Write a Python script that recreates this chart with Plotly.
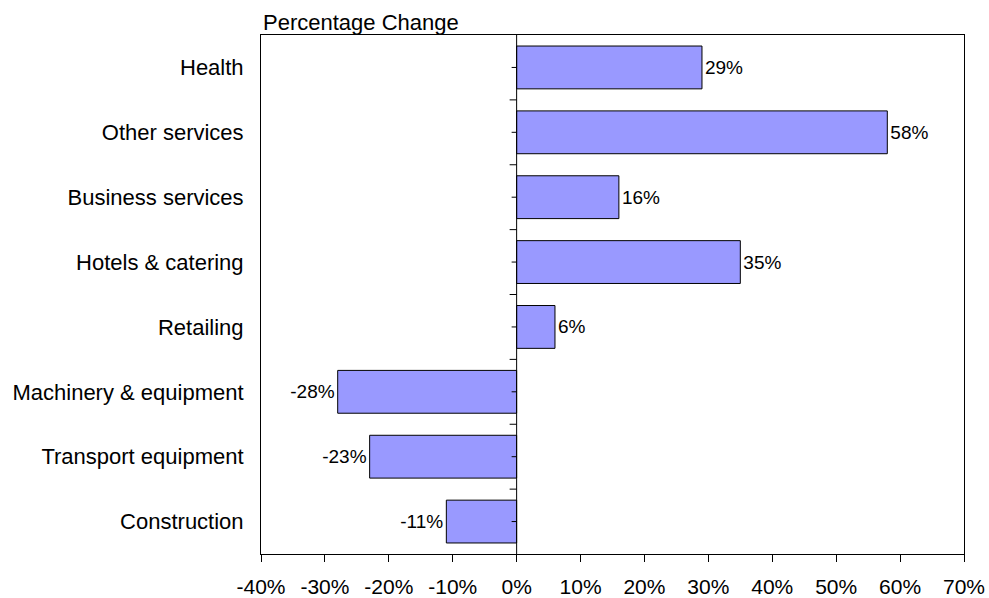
import plotly.graph_objects as go

categories = ["Health", "Other services", "Business services", "Hotels & catering",
              "Retailing", "Machinery & equipment", "Transport equipment", "Construction"]
values = [29, 58, 16, 35, 6, -28, -23, -11]
x_tickvals = [-40, -30, -20, -10, 0, 10, 20, 30, 40, 50, 60, 70]
x_ticktext = ["-40%", "-30%", "-20%", "-10%", "0%", "10%", "20%", "30%", "40%", "50%", "60%", "70%"]
data_labels = [f"{v}%" for v in values]

FONT = "Liberation Sans, Arial, sans-serif"

fig = go.Figure(go.Bar(
    x=values, y=categories, orientation="h",
    marker=dict(color="#9999FF", line=dict(color="#000000", width=1)),
    text=data_labels, textposition="outside", constraintext="none",
    textfont=dict(family=FONT, size=19, color="#000000"),
    cliponaxis=False,
))

# axis ticks along the zero line (category boundaries and centers)
shapes = [dict(type="line", xref="x", yref="paper", x0=0, x1=0, y0=0, y1=1,
               line=dict(color="#000000", width=1))]
n = len(categories)
for i in range(1, n):
    yb = i - 0.5
    shapes.append(dict(type="line", xref="x", yref="y", xsizemode="pixel", xanchor=0,
                       x0=-7, x1=0, y0=yb, y1=yb, line=dict(color="#000000", width=1)))
for i in range(n):
    shapes.append(dict(type="line", xref="x", yref="y", xsizemode="pixel", xanchor=0,
                       x0=-5, x1=0, y0=i, y1=i, line=dict(color="#000000", width=1)))

fig.update_layout(
    width=989, height=598,
    margin=dict(l=261, r=25, t=35, b=44, autoexpand=False),
    paper_bgcolor="white", plot_bgcolor="white",
    showlegend=False,
    bargap=0.34,
    font=dict(family=FONT, color="#000000"),
    xaxis=dict(range=[-40, 70], tickvals=x_tickvals, ticktext=x_ticktext,
               automargin=False, showgrid=False, zeroline=False,
               showline=True, linecolor="#000000", linewidth=1, mirror=True,
               ticks="outside", ticklen=7, tickcolor="#000000", ticklabelstandoff=7,
               tickfont=dict(family=FONT, size=21, color="#000000")),
    yaxis=dict(categoryorder="array", categoryarray=categories, autorange="reversed",
               automargin=False, showgrid=False, zeroline=False,
               showline=True, linecolor="#000000", linewidth=1, mirror=True,
               ticks="outside", ticklen=12, tickcolor="rgba(0,0,0,0)",
               tickfont=dict(family=FONT, size=22, color="#000000")),
    shapes=shapes,
    annotations=[dict(text="Percentage Change", xref="paper", yref="paper", x=0, y=1,
                      xanchor="left", yanchor="bottom", yshift=-2, showarrow=False,
                      font=dict(family=FONT, size=22, color="#000000"))],
)

fig.write_html("out.html", config={"displayModeBar": False},
               post_script="document.body.style.margin='0';document.body.style.overflow='hidden';")
